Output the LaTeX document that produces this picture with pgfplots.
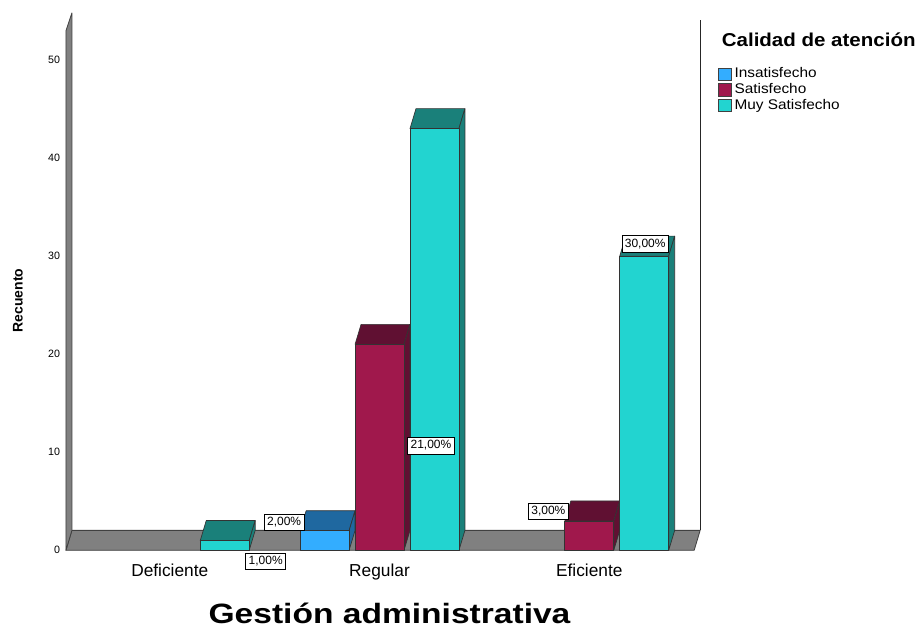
\documentclass[border=0pt]{standalone}
\usepackage{pgfplots}
\pgfplotsset{compat=1.18}
\usepackage{fontspec}
\setmainfont{Liberation Sans}
\newfontfamily\stretchfont[FakeStretch=1.1]{Liberation Sans}
\newfontfamily\titlefont[FakeStretch=1.2]{Liberation Sans}
\definecolor{cInsF}{RGB}{51,173,255}
\definecolor{cInsD}{RGB}{31,104,160}
\definecolor{cSatF}{RGB}{160,24,76}
\definecolor{cSatD}{RGB}{96,16,50}
\definecolor{cMuyF}{RGB}{34,212,208}
\definecolor{cMuyD}{RGB}{26,128,122}
\definecolor{floorgray}{RGB}{128,128,128}
\pgfplotsset{
  bar3d/.style n args={3}{% offset (pt number), front colour, dark colour
    scatter, only marks, mark=*, mark size=0pt,
    visualization depends on={rawy \as \ry},
    scatter/@pre marker code/.code={%
      \pgfmathsetmacro\hh{\ry*7.365}%
      \pgfmathsetmacro\hb{15-\hh}%
      \pgfmathsetmacro\xl{-18.375+#1}%
      \pgfmathsetmacro\xr{18.375+#1}%
      \pgfmathsetmacro\xlb{-13.875+#1}%
      \pgfmathsetmacro\xrb{22.875+#1}%
      \begin{scope}[line width=0.5pt, line join=round]
        \filldraw[fill=#3, draw=black!80] (\xl pt,0pt) -- (\xr pt,0pt) -- (\xrb pt,15pt) -- (\xlb pt,15pt) -- cycle;
        \filldraw[fill=#3, draw=black!80] (\xr pt,0pt) -- (\xrb pt,15pt) -- (\xrb pt,\hb pt) -- (\xr pt,-\hh pt) -- cycle;
        \filldraw[fill=#2, draw=black!80] (\xl pt,-\hh pt) rectangle (\xr pt,0pt);
      \end{scope}%
    },
    scatter/@post marker code/.code={},
    legend image code/.code={\filldraw[fill=#2, draw=black!75, line width=0.5pt] (0pt,-4.6pt) rectangle (9.5pt,4.6pt);},
  },
}
\begin{document}
\begin{tikzpicture}
\begin{scope}[x=0.75pt,y=-0.75pt]
  \useasboundingbox (0,0) rectangle (920,624);
  % floor
  \filldraw[fill=floorgray, draw=black!75, line width=0.6pt, line join=round]
     (66,551) -- (695,551) -- (701,531) -- (72,531) -- cycle;
  % left wall
  \filldraw[fill=floorgray, draw=black!75, line width=0.6pt, line join=round]
     (66,551) -- (72,531) -- (72,13) -- (66,31) -- cycle;
  % right back edge
  \draw[black!85, line width=0.6pt] (701,531) -- (701,20);
\end{scope}
\begin{axis}[
  at={(285pt,-413.25pt)}, anchor=origin,
  x=157.5pt, y=7.365pt,
  xmin=-1.495, xmax=1.5, ymin=0, ymax=52.9,
  clip=false,
  axis line style={draw=none},
  tick style={draw=none},
  major tick length=0pt,
  xtick={-1,0,1},
  xticklabels={Deficiente,Regular,Eficiente},
  xticklabel style={font=\fontsize{13}{15}\selectfont, yshift=-7pt},
  ytick={0,10,20,30,40,50},
  yticklabel style={font=\fontsize{8}{10}\selectfont, xshift=-1pt},
  /pgf/number format/assume math mode=true,
  legend style={at={(axis description cs:1.0382,0.9336)}, anchor=north west,
    draw=none, fill=none, inner sep=0pt, row sep=0pt,
    font=\stretchfont\fontsize{10.5}{12}\selectfont,
    nodes={inner sep=0.6pt, text height=8.2pt, text depth=2.4pt, anchor=west}},
  legend cell align=left,
]
\addplot+[bar3d={-41.25}{cInsF}{cInsD}] coordinates {(0,2)};
\addlegendentry{\hspace{1.5pt}Insatisfecho}
\addplot+[bar3d={0}{cSatF}{cSatD}] coordinates {(0,21) (1,3)};
\addlegendentry{\hspace{1.5pt}Satisfecho}
\addplot+[bar3d={41.25}{cMuyF}{cMuyD}] coordinates {(-1,1) (0,43) (1,30)};
\addlegendentry{\hspace{1.5pt}Muy Satisfecho}
\end{axis}
\begin{scope}[x=0.75pt,y=-0.75pt]
  \tikzset{vlab/.style={draw=black, fill=white, line width=0.5pt, inner xsep=2.2pt, inner ysep=2.6pt, font=\fontsize{9}{10}\selectfont}}
  \node[vlab] at (266,562) {1,00\%};
  \node[vlab] at (284.5,523) {2,00\%};
  \node[vlab] at (431.5,446) {21,00\%};
  \node[vlab] at (549,512) {3,00\%};
  \node[vlab] at (646,244) {30,00\%};
  \node[rotate=90, font=\bfseries\fontsize{10.5}{12}\selectfont] at (18,301) {Recuento};
  \node[font=\titlefont\bfseries\fontsize{21}{24}\selectfont] at (390,614) {Gestión administrativa};
  \node[anchor=west, font=\stretchfont\bfseries\fontsize{14}{16}\selectfont] at (718,40) {Calidad de atención};
\end{scope}
\end{tikzpicture}
\end{document}
